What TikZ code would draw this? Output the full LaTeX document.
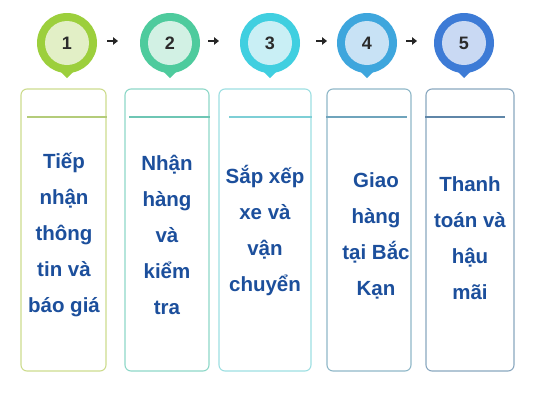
\documentclass[tikz,border=0pt]{standalone}
\usepackage{fontspec}
\setmainfont{Liberation Sans}
\usetikzlibrary{arrows.meta,calc}
\definecolor{txt}{HTML}{1C4F9C}
\definecolor{numc}{HTML}{2B2B2B}
\definecolor{po1}{HTML}{9CCF3C}\definecolor{pi1}{HTML}{E2EFC6}
\definecolor{po2}{HTML}{4ECB9D}\definecolor{pi2}{HTML}{D2F1E4}
\definecolor{po3}{HTML}{40CFE0}\definecolor{pi3}{HTML}{C9EFF5}
\definecolor{po4}{HTML}{3EA6DD}\definecolor{pi4}{HTML}{C8E2F5}
\definecolor{po5}{HTML}{3D7BD6}\definecolor{pi5}{HTML}{C9D9F3}
\definecolor{bb1}{HTML}{CDDC8E}\definecolor{bl1}{HTML}{B4CC7A}
\definecolor{bb2}{HTML}{8ED8C8}\definecolor{bl2}{HTML}{6EC6B4}
\definecolor{bb3}{HTML}{9EDFE2}\definecolor{bl3}{HTML}{7ECFD6}
\definecolor{bb4}{HTML}{8FB8C8}\definecolor{bl4}{HTML}{6FA4BC}
\definecolor{bb5}{HTML}{8AA8C0}\definecolor{bl5}{HTML}{5F86A8}
\tikzset{
  pinouter/.style={circle,minimum size=60pt,inner sep=0pt},
  pininner/.style={circle,minimum size=44pt,inner sep=0pt,font=\bfseries\fontsize{18}{18}\selectfont,text=numc},
  stepbox/.style={rounded corners=6pt,line width=1.1pt,minimum height=282pt,inner sep=0pt},
  steptext/.style={align=center,text=txt,font=\bfseries\fontsize{20.5}{36}\selectfont},
  arr/.style={line width=2.6pt,-{Triangle[length=5pt,width=7.5pt]},black!85},
  hline/.style={line width=1.2pt}
}
\begin{document}
\begin{tikzpicture}[x=1pt,y=-1pt]
\useasboundingbox[fill=white] (0,0) rectangle (533,400);
% pins
\foreach \i/\x in {1/67,2/170,3/270,4/367,5/464}{
  \fill[po\i] (\x-7,71) -- (\x,78) -- (\x+7,71) -- cycle;
  \node[pinouter,fill=po\i] (p\i) at (\x,43) {};
  \node[pininner,fill=pi\i] (n\i) at (p\i) {\i};
}
% arrows
\coordinate (a1s) at (107,41); \coordinate (a1e) at (118,41);
\coordinate (a2s) at (208,41); \coordinate (a2e) at (219,41);
\coordinate (a3s) at (316,41); \coordinate (a3e) at (327,41);
\coordinate (a4s) at (406,41); \coordinate (a4e) at (417,41);
\draw[arr] (a1s) -- (a1e);
\draw[arr] (a2s) -- (a2e);
\draw[arr] (a3s) -- (a3e);
\draw[arr] (a4s) -- (a4e);
% boxes
\node[stepbox,draw=bb1,minimum width=85pt] (b1) at (63.5,230) {};
\node[stepbox,draw=bb2,minimum width=84pt] (b2) at (167,230) {};
\node[stepbox,draw=bb3,minimum width=92pt] (b3) at (265,230) {};
\node[stepbox,draw=bb4,minimum width=84pt] (b4) at (369,230) {};
\node[stepbox,draw=bb5,minimum width=88pt] (b5) at (470,230) {};
% header lines
\draw[hline,bl1] ($(b1.west)+(7,-113)$) -- ($(b1.east)+(0,-113)$);
\draw[hline,bl2] ($(b2.west)+(5,-113)$) -- ($(b2.east)+(0,-113)$);
\draw[hline,bl3] ($(b3.west)+(11,-113)$) -- ($(b3.east)+(0,-113)$);
\draw[hline,bl4] ($(b4.west)+(0,-113)$) -- ($(b4.east)+(-5,-113)$);
\draw[hline,bl5] ($(b5.west)+(0,-113)$) -- ($(b5.east)+(-10,-113)$);
% texts
\node[steptext] (t1) at (64,235) {Tiếp\\nhận\\thông\\tin và\\báo giá};
\node[steptext] (t2) at (167,235) {Nhận\\hàng\\và\\kiểm\\tra};
\node[steptext] (t3) at (265,230) {Sắp xếp\\xe và\\vận\\chuyển};
\node[steptext] (t4) at (376,236) {Giao\\hàng\\tại Bắc\\Kạn};
\node[steptext] (t5) at (470,238) {Thanh\\toán và\\hậu\\mãi};
\end{tikzpicture}
\end{document}
